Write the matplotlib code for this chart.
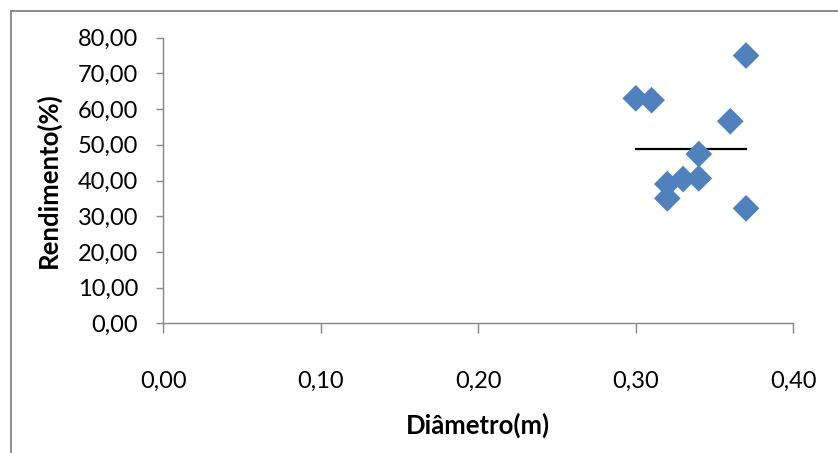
import matplotlib
matplotlib.use("Agg")
import matplotlib.pyplot as plt
from matplotlib.lines import Line2D
from matplotlib.ticker import FuncFormatter

# Measured samples
diametro = [0.30, 0.31, 0.37, 0.36, 0.34, 0.32, 0.33, 0.34, 0.32, 0.37]
rendimento = [63.0, 62.5, 75.0, 56.6, 47.4, 39.0, 40.4, 40.6, 35.0, 32.2]

# Average line across the diameter range
media_x = [0.30, 0.37]
media_y = [48.8, 48.8]

x_ticks = [0.0, 0.1, 0.2, 0.3, 0.4]
y_ticks = [0, 10, 20, 30, 40, 50, 60, 70, 80]

plt.rcParams['font.family'] = ['Lato', 'DejaVu Sans']

W, H = 838, 453
fig = plt.figure(figsize=(W / 100, H / 100), dpi=100)
left, right, top, bottom = 163.3, 793.3, 37.7, 323.3
ax = fig.add_axes([left / W, 1 - bottom / H, (right - left) / W, (bottom - top) / H])

ax.scatter(diametro, rendimento, marker='D', s=185, color='#4F81BD',
           edgecolors='none', zorder=3, clip_on=False)
ax.plot(media_x, media_y, color='black', lw=1.6, zorder=2)

ax.set_xlim(0, 0.4)
ax.set_ylim(0, 80)
ax.set_xticks(x_ticks)
ax.set_yticks(y_ticks)
fmt = FuncFormatter(lambda v, p: f"{v:.2f}".replace('.', ','))
ax.xaxis.set_major_formatter(fmt)
ax.yaxis.set_major_formatter(fmt)

for s in ['top', 'right']:
    ax.spines[s].set_visible(False)
for s in ['left', 'bottom']:
    ax.spines[s].set_color('#868686')
    ax.spines[s].set_linewidth(1.0)

ax.tick_params(axis='y', direction='out', length=5, width=1.0, color='#868686',
               pad=13, labelsize=17)
ax.tick_params(axis='x', direction='out', length=7, width=1.0, color='#868686',
               pad=27, labelsize=17)

ax.set_xlabel('Diâmetro(m)', fontsize=18.5, fontweight='bold')
ax.set_ylabel('Rendimento(%)', fontsize=18.5, fontweight='bold')
ax.xaxis.set_label_coords(0.5, 1 - (425 - top) / (bottom - top), transform=ax.transAxes)
ax.yaxis.set_label_coords((48.5 - left) / (right - left), 0.5, transform=ax.transAxes)
ax.xaxis.label.set_va('center')
ax.yaxis.label.set_va('center')

# Chart area frame
fig.add_artist(Line2D([11 / W, 11 / W], [0, 1 - 11 / H], transform=fig.transFigure,
                      color='#8c8c8c', lw=1.4))
fig.add_artist(Line2D([11 / W, 1], [1 - 11 / H, 1 - 11 / H], transform=fig.transFigure,
                      color='#8c8c8c', lw=1.4))

fig.savefig('out.png', dpi=100)
